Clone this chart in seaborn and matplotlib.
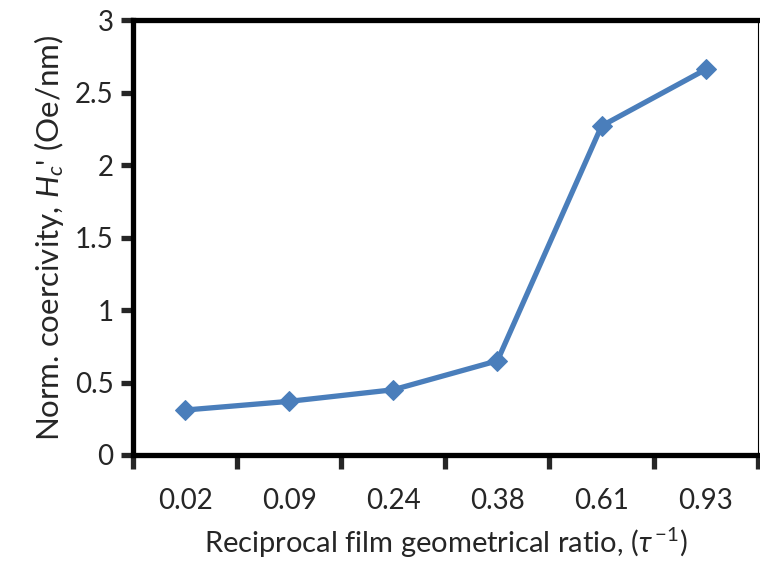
import numpy as np
import pandas as pd
import seaborn as sns
import matplotlib.pyplot as plt

# values
ratios = ['0.02', '0.09', '0.24', '0.38', '0.61', '0.93']
hc_norm = [0.31, 0.37, 0.45, 0.65, 2.27, 2.66]

df = pd.DataFrame({'pos': np.arange(len(ratios)), 'hc': hc_norm})

sns.set_style('white')
plt.rcParams['font.family'] = ['Lato', 'DejaVu Sans']
plt.rcParams['mathtext.fontset'] = 'custom'
plt.rcParams['mathtext.rm'] = 'Lato'
plt.rcParams['mathtext.it'] = 'Lato:italic'
plt.rcParams['mathtext.fallback'] = 'stix'

fig = plt.figure(figsize=(7.6, 5.61), dpi=100)
ax = fig.add_axes([0.175, 0.189, 0.822, 0.775])

sns.lineplot(data=df, x='pos', y='hc', ax=ax, color='#4A7EBB', linewidth=3.8,
             marker='D', markersize=10.5, markeredgecolor='#4A7EBB')

ax.set_xlim(-0.5, len(ratios) - 0.5)
ax.set_ylim(0, 3)
ax.set_yticks(np.arange(0, 3.01, 0.5))
ax.set_yticklabels(['0', '0.5', '1', '1.5', '2', '2.5', '3'])

# category boundaries carry the tick marks, labels sit in the middle
ax.set_xticks(np.arange(-0.5, len(ratios), 1.0))
ax.set_xticklabels([])
ax.set_xticks(np.arange(len(ratios)), minor=True)
ax.set_xticklabels(ratios, minor=True)
ax.tick_params(axis='x', which='minor', bottom=True, length=0, pad=24, labelsize=20)
ax.tick_params(axis='x', which='major', bottom=True, length=10, width=3.8, direction='out')
ax.tick_params(axis='y', left=True, length=9, width=3.8, direction='out', labelsize=20, pad=5)

for side in ['left', 'bottom', 'top']:
    ax.spines[side].set_linewidth(3.8)
    ax.spines[side].set_color('black')
ax.spines['right'].set_linewidth(0.8)
ax.spines['right'].set_color('black')

ax.set_xlabel(r"Reciprocal film geometrical ratio, ($\tau^{\,\mathit{-1}}$)", fontsize=21, labelpad=8)
ax.set_ylabel(r"Norm. coercivity, $\mathit{H}_{\mathit{c}}$' (Oe/nm)", fontsize=22.5, labelpad=6)

fig.savefig('out.png', dpi=100)
